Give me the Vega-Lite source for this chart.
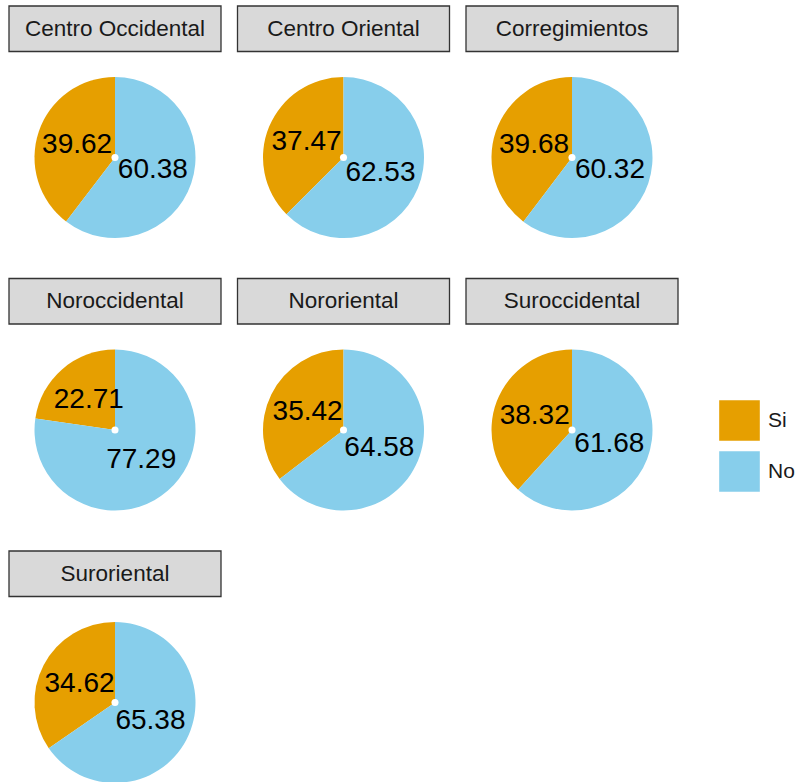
{
  "$schema": "https://vega.github.io/schema/vega-lite/v6.json",
  "padding": {"left": 8, "top": 4, "right": 0, "bottom": 0},
  "background": "white",
  "data": {
    "values": [
      {"region": "Centro Occidental", "cat": "Si", "value": 39.62},
      {"region": "Centro Occidental", "cat": "No", "value": 60.38},
      {"region": "Centro Oriental", "cat": "Si", "value": 37.47},
      {"region": "Centro Oriental", "cat": "No", "value": 62.53},
      {"region": "Corregimientos", "cat": "Si", "value": 39.68},
      {"region": "Corregimientos", "cat": "No", "value": 60.32},
      {"region": "Noroccidental", "cat": "Si", "value": 22.71},
      {"region": "Noroccidental", "cat": "No", "value": 77.29},
      {"region": "Nororiental", "cat": "Si", "value": 35.42},
      {"region": "Nororiental", "cat": "No", "value": 64.58},
      {"region": "Suroccidental", "cat": "Si", "value": 38.32},
      {"region": "Suroccidental", "cat": "No", "value": 61.68},
      {"region": "Suroriental", "cat": "Si", "value": 34.62},
      {"region": "Suroriental", "cat": "No", "value": 65.38}
    ]
  },
  "facet": {"field": "region", "type": "nominal", "title": null, "header": {"title": null, "labelExpr": "''", "labelPadding": 0, "labelFontSize": 1}},
  "columns": 3,
  "spacing": {"column": 14.5, "row": 38.5},
  "spec": {
    "width": 212,
    "height": 232,
    "layer": [
      {
        "transform": [{"filter": "datum.cat == 'Si'"}],
        "mark": {"type": "rect", "fill": "#D9D9D9", "stroke": "#333333", "strokeWidth": 1.3},
        "encoding": {
          "x": {"datum": 0, "type": "quantitative", "scale": {"domain": [0, 1], "nice": false, "zero": false}, "axis": null},
          "x2": {"datum": 1},
          "y": {"datum": 1, "type": "quantitative", "scale": {"domain": [0, 1], "nice": false, "zero": false}, "axis": null},
          "y2": {"datum": 0.8039}
        }
      },
      {
        "transform": [{"filter": "datum.cat == 'Si'"}],
        "mark": {"type": "text", "font": "Liberation Sans", "fontSize": 22.5, "color": "#1A1A1A", "align": "center", "baseline": "middle"},
        "encoding": {
          "x": {"datum": 0.5, "type": "quantitative"},
          "y": {"datum": 0.9009, "type": "quantitative"},
          "text": {"field": "region"}
        }
      },
      {
        "mark": {"type": "arc", "radius": 80.5, "stroke": null},
        "encoding": {
          "x": {"datum": 0.5, "type": "quantitative"},
          "y": {"datum": 0.347, "type": "quantitative"},
          "theta": {"field": "value", "type": "quantitative", "stack": true},
          "order": {"field": "cat", "type": "nominal", "sort": "ascending"},
          "color": {
            "field": "cat", "type": "nominal",
            "scale": {"domain": ["Si", "No"], "range": ["#E69F00", "#87CEEB"]},
            "legend": {"title": null}
          }
        }
      },
      {
        "transform": [{"filter": "datum.cat == 'Si'"}],
        "mark": {"type": "point", "filled": true, "color": "white", "size": 50, "opacity": 1},
        "encoding": {
          "x": {"datum": 0.5, "type": "quantitative"},
          "y": {"datum": 0.347, "type": "quantitative"}
        }
      },
      {
        "mark": {"type": "text", "radius": 40, "font": "Liberation Sans", "fontSize": 28, "color": "black", "align": "center", "baseline": "middle"},
        "encoding": {
          "x": {"datum": 0.5, "type": "quantitative"},
          "y": {"datum": 0.347, "type": "quantitative"},
          "theta": {"field": "value", "type": "quantitative", "stack": true},
          "order": {"field": "cat", "type": "nominal", "sort": "ascending"},
          "detail": {"field": "cat", "type": "nominal"},
          "text": {"field": "value", "type": "quantitative", "format": ".2f"}
        }
      }
    ]
  },
  "config": {
    "view": {"stroke": null},
    "legend": {
      "orient": "none",
      "legendX": 710,
      "legendY": 394,
      "symbolType": "square",
      "symbolSize": 1650,
      "symbolStrokeWidth": 0,
      "symbolOpacity": 1,
      "labelFont": "Liberation Sans",
      "labelFontSize": 21,
      "labelColor": "#1A1A1A",
      "labelOffset": 8,
      "rowPadding": 10
    }
  }
}
